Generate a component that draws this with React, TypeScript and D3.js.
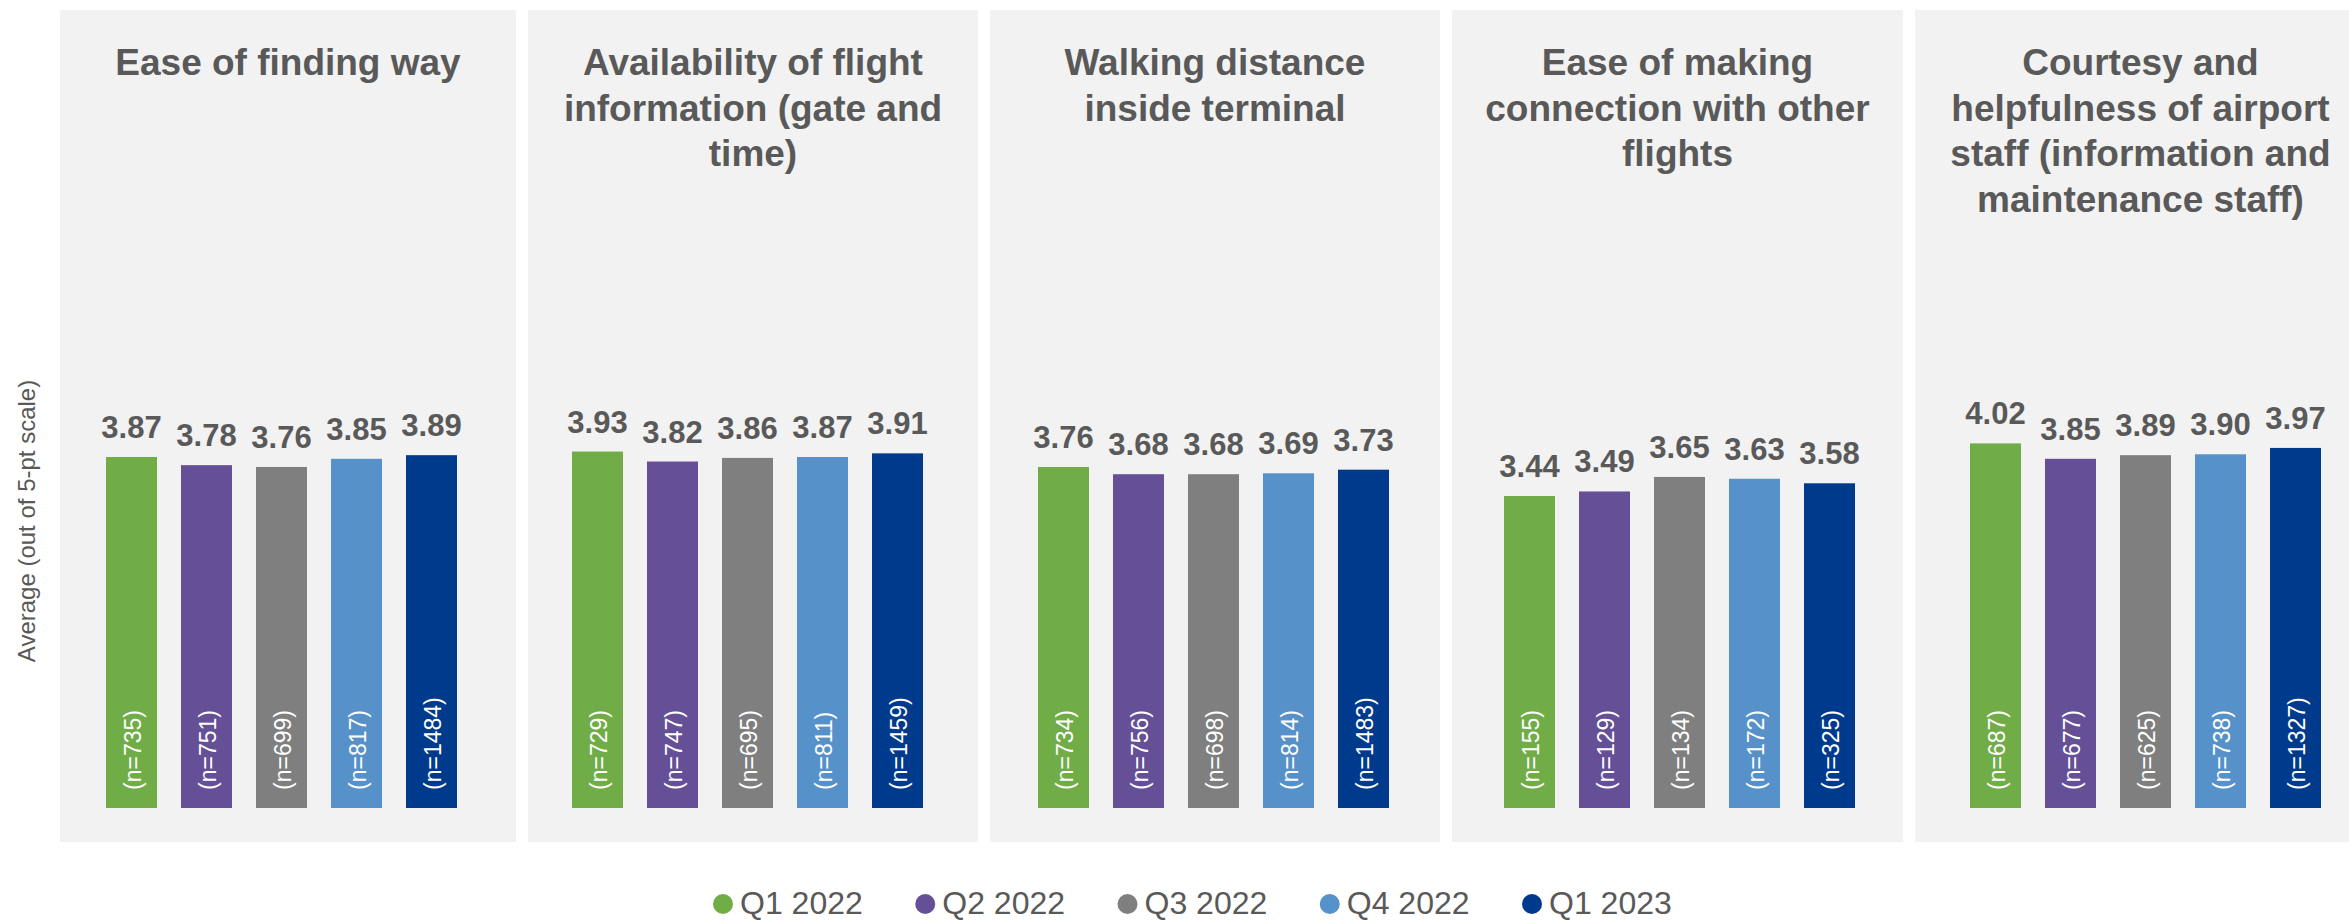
import React from "react";
import * as d3 from "d3";

const categories = [
  ["Ease of finding way"],
  ["Availability of flight", "information (gate and", "time)"],
  ["Walking distance", "inside terminal"],
  ["Ease of making", "connection with other", "flights"],
  ["Courtesy and", "helpfulness of airport", "staff (information and", "maintenance staff)"],
];
const categoryKeys = ["way", "info", "walk", "conn", "staff"];
const seriesNames = ["Q1 2022", "Q2 2022", "Q3 2022", "Q4 2022", "Q1 2023"];
const seriesColors = ["#70AD47", "#654F97", "#7F7F7F", "#5691C9", "#003A8C"];

const q1_2022 = [3.87, 3.93, 3.76, 3.44, 4.02];
const q2_2022 = [3.78, 3.82, 3.68, 3.49, 3.85];
const q3_2022 = [3.76, 3.86, 3.68, 3.65, 3.89];
const q4_2022 = [3.85, 3.87, 3.69, 3.63, 3.9];
const q1_2023 = [3.89, 3.91, 3.73, 3.58, 3.97];

const n_q1_2022 = [735, 729, 734, 155, 687];
const n_q2_2022 = [751, 747, 756, 129, 677];
const n_q3_2022 = [699, 695, 698, 134, 625];
const n_q4_2022 = [817, 811, 814, 172, 738];
const n_q1_2023 = [1484, 1459, 1483, 325, 1327];

const values = [q1_2022, q2_2022, q3_2022, q4_2022, q1_2023];
const counts = [n_q1_2022, n_q2_2022, n_q3_2022, n_q4_2022, n_q1_2023];

const yAxisTitle = "Average (out of 5-pt scale)";

const W = 2349;
const H = 922;
const PANEL_LEFT = [60, 528, 990, 1452, 1915];
const PANEL_RIGHT = [516, 978, 1440, 1903, 2366];
const PANEL_TOP = 10;
const PANEL_BOTTOM = 842;
const TEXT = "#595959";
const FONT = "'Liberation Sans', Arial, Helvetica, sans-serif";

export default function App() {
  const x0 = d3.scaleBand<string>().domain(categoryKeys).range([48.5, 48.5 + 466 * 5]).padding(0);
  const x1 = d3
    .scaleBand<string>()
    .domain(seriesNames)
    .range([0, 375])
    .paddingInner(0.32)
    .paddingOuter(0.16);
  const y = d3.scaleLinear().domain([0, 5]).range([808, 808 - 90.7 * 5]);

  const legendX = d3.scalePoint<string>().domain(seriesNames).range([723, 1532]);

  return (
    <svg
      width={W}
      height={H}
      style={{ position: "absolute", left: 0, top: 0, background: "#fff" }}
      fontFamily={FONT}
    >
      <rect x={0} y={0} width={W} height={H} fill="#ffffff" />
      {categoryKeys.map((k, i) => (
        <rect
          key={"p" + k}
          x={PANEL_LEFT[i]}
          y={PANEL_TOP}
          width={PANEL_RIGHT[i] - PANEL_LEFT[i]}
          height={PANEL_BOTTOM - PANEL_TOP}
          fill="#F2F2F2"
        />
      ))}
      {categoryKeys.map((k, i) => {
        const cx = (PANEL_LEFT[i] + PANEL_RIGHT[i]) / 2;
        return (
          <text
            key={"t" + k}
            x={cx}
            y={75}
            textAnchor="middle"
            fontSize={37}
            fontWeight="bold"
            fill={TEXT}
          >
            {categories[i].map((line, j) => (
              <tspan key={j} x={cx} y={75 + j * 45.5}>
                {line}
              </tspan>
            ))}
          </text>
        );
      })}
      {categoryKeys.map((k, i) => {
        const gx = x0(k)! + (x0.bandwidth() - 375) / 2;
        return (
          <g key={"g" + k} transform={`translate(${gx},0)`}>
            {seriesNames.map((s, j) => {
              const v = values[j][i];
              const bx = x1(s)!;
              const bw = x1.bandwidth();
              const cxb = bx + bw / 2;
              return (
                <g key={s}>
                  <rect x={bx} y={y(v)} width={bw} height={y(0) - y(v)} fill={seriesColors[j]} />
                  <text
                    x={cxb}
                    y={y(v) - 19}
                    textAnchor="middle"
                    fontSize={31}
                    fontWeight="bold"
                    fill={TEXT}
                  >
                    {v.toFixed(2)}
                  </text>
                  <text
                    transform={`translate(${cxb + 1},${y(0) - 18}) rotate(-90)`}
                    textAnchor="start"
                    dominantBaseline="central"
                    fontSize={23}
                    fill="#ffffff"
                  >
                    {`(n=${counts[j][i]})`}
                  </text>
                </g>
              );
            })}
          </g>
        );
      })}
      <text
        transform={`translate(26,521) rotate(-90)`}
        textAnchor="middle"
        dominantBaseline="central"
        fontSize={24}
        fill={TEXT}
      >
        {yAxisTitle}
      </text>
      {seriesNames.map((s, j) => (
        <g key={"l" + s}>
          <circle cx={legendX(s)!} cy={904} r={10} fill={seriesColors[j]} />
          <text x={legendX(s)! + 17} y={914} fontSize={32} fill={TEXT}>
            {s}
          </text>
        </g>
      ))}
    </svg>
  );
}
